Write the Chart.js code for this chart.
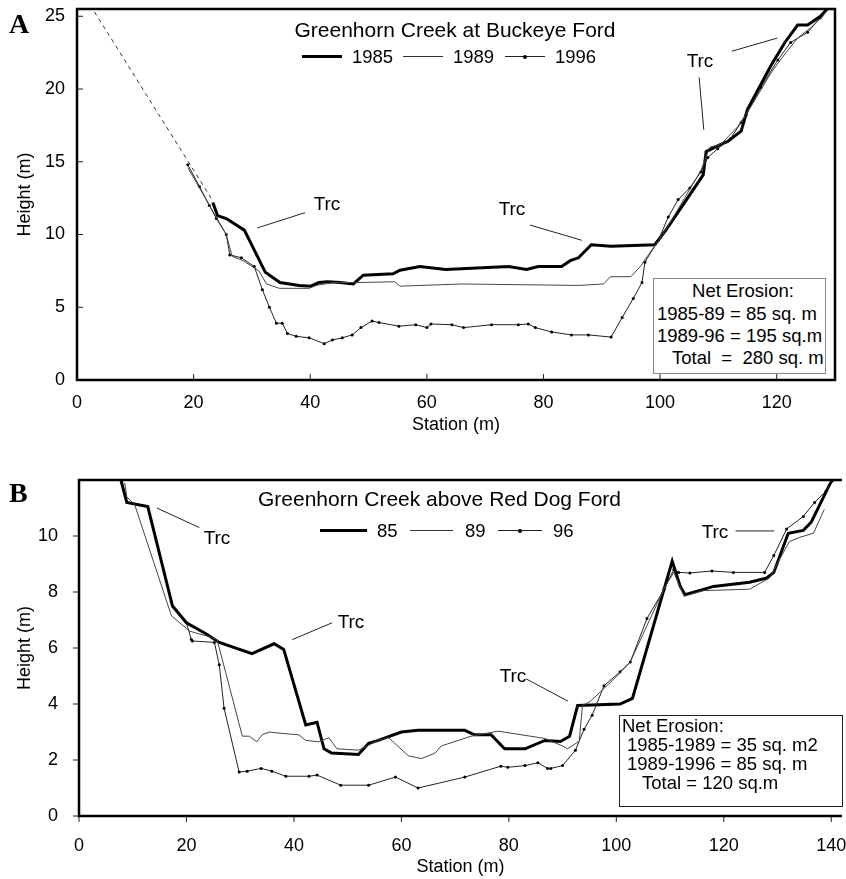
<!DOCTYPE html>
<html>
<head>
<meta charset="utf-8">
<script src="https://cdn.jsdelivr.net/npm/chart.js@4.4.1/dist/chart.umd.min.js"></script>
<style>
  body { margin: 0; background: #fff; }
  #page { position: relative; width: 846px; height: 879px; overflow: hidden;
          font-family: "Liberation Sans", Arial, sans-serif; color: #000; }
  .panel { position: absolute; left: 0; }
  .t { position: absolute; line-height: 1; white-space: pre; transform: translateY(-50%); }
  .c { transform: translate(-50%, -50%); }
  .big { font: bold 28px "Liberation Serif", "Times New Roman", serif; transform: none; }
  .ttl { font-size: 21px; }
  .leg { font-size: 18.5px; }
  .trc { font-size: 19px; }
  .ne { font-size: 18.5px; }
  .sw { position: absolute; background: #000; }
  .dot { position: absolute; width: 4px; height: 4px; border-radius: 2px; background: #000; }
  .box { position: absolute; background: #fff; box-sizing: border-box; }
</style>
</head>
<body>
<div id="page">
  <div class="panel" style="top:0;width:846px;height:445px">
    <canvas id="chartA" width="846" height="445"></canvas>
  </div>
  <div class="panel" style="top:445px;width:846px;height:434px">
    <canvas id="chartB" width="846" height="434"></canvas>
  </div>

  <!-- panel A labels -->
  <div class="t big" style="left:9px;top:8px">A</div>
  <div class="t c ttl" style="left:455px;top:29px">Greenhorn Creek at Buckeye Ford</div>
  <div class="sw" style="left:302px;top:54.5px;width:40px;height:3px"></div>
  <div class="t leg" style="left:352px;top:57px">1985</div>
  <div class="sw" style="left:403px;top:56px;width:40px;height:1px;background:#333"></div>
  <div class="t leg" style="left:453px;top:57px">1989</div>
  <div class="sw" style="left:505px;top:56px;width:40px;height:1px;background:#222"></div>
  <div class="dot" style="left:523px;top:54.5px"></div>
  <div class="t leg" style="left:555px;top:57px">1996</div>
  <div class="t c trc" style="left:327px;top:203px">Trc</div>
  <div class="t c trc" style="left:512px;top:208px">Trc</div>
  <div class="t c trc" style="left:700px;top:60px">Trc</div>
  <div class="box" style="left:653px;top:278px;width:173px;height:96px;border:1px solid #888"></div>
  <div class="t c ne" style="left:743px;top:291px">Net Erosion:</div>
  <div class="t ne" style="left:657px;top:314px">1985-89 = 85 sq. m</div>
  <div class="t ne" style="left:657px;top:336px">1989-96 = 195 sq.m</div>
  <div class="t ne" style="left:672px;top:358px">Total  =  280 sq. m</div>

  <!-- panel B labels -->
  <div class="t big" style="left:9px;top:477px">B</div>
  <div class="t ttl" style="left:258px;top:498px">Greenhorn Creek above Red Dog Ford</div>
  <div class="sw" style="left:320px;top:528.5px;width:47px;height:3px"></div>
  <div class="t leg" style="left:377px;top:531px">85</div>
  <div class="sw" style="left:410px;top:530px;width:43px;height:1px;background:#333"></div>
  <div class="t leg" style="left:465px;top:531px">89</div>
  <div class="sw" style="left:498px;top:530px;width:44px;height:1px;background:#222"></div>
  <div class="dot" style="left:518px;top:528.5px"></div>
  <div class="t leg" style="left:553px;top:531px">96</div>
  <div class="t c trc" style="left:217px;top:537px">Trc</div>
  <div class="t c trc" style="left:351px;top:621px">Trc</div>
  <div class="t c trc" style="left:513px;top:675px">Trc</div>
  <div class="t c trc" style="left:715px;top:531px">Trc</div>
  <div class="box" style="left:619px;top:715px;width:224px;height:92px;border:1.5px solid #222"></div>
  <div class="t ne" style="left:622px;top:726px">Net Erosion:</div>
  <div class="t ne" style="left:627px;top:745px">1985-1989 = 35 sq. m2</div>
  <div class="t ne" style="left:627px;top:764px">1989-1996 = 85 sq. m</div>
  <div class="t ne" style="left:642px;top:783px">Total = 120 sq.m</div>
</div>

<script>
// ---- A: Greenhorn Creek at Buckeye Ford ----
const stationA85 = [23.3, 24.1, 25.6, 28.7, 32.3, 34.8, 38.1, 40.1, 41.5, 43.0, 45.1, 47.4, 49.1, 54.2, 55.4, 58.8, 63.2, 74, 77.1, 79.1, 83.1, 84.6, 86, 88.2, 91.6, 99.1, 101, 107.4, 107.9, 110.4, 111.6, 113.9, 115, 119, 121.4, 123.6, 125.3, 127.5, 128.9];
const heightA85  = [12.2, 11.3, 11.1, 10.3, 7.4, 6.7, 6.5, 6.45, 6.7, 6.75, 6.7, 6.6, 7.2, 7.3, 7.55, 7.8, 7.6, 7.8, 7.6, 7.8, 7.8, 8.2, 8.4, 9.3, 9.2, 9.3, 10.3, 14.1, 15.7, 16.2, 16.4, 17.1, 18.6, 21.6, 23.2, 24.4, 24.4, 25, 25.6];

const stationA89 = [19, 21, 23.3, 25.6, 26.6, 28.5, 31.2, 32.5, 34.7, 39.8, 41, 44, 48, 54.5, 55.4, 66, 86, 90.3, 91.5, 95, 96.6, 98, 100.8, 107, 108.5, 110.4, 113.3, 115.6, 119, 121.4, 123.6, 125.8, 128.2];
const heightA89  = [14.6, 13.2, 11.6, 10, 8.5, 8.2, 7.5, 6.6, 6.3, 6.3, 6.5, 6.7, 6.7, 6.75, 6.45, 6.6, 6.5, 6.6, 7.1, 7.1, 7.8, 8.6, 10.2, 14.4, 16, 16.2, 17.4, 18.8, 21.1, 22.4, 23.5, 24.2, 25.1];

const stationA96 = [19, 21, 22.7, 23.9, 25.6, 26.2, 28.2, 30.4, 31.8, 33, 34.2, 35.2, 36.1, 37.6, 39.8, 42.4, 43.8, 45.5, 47.2, 48.7, 50.6, 51.8, 55.2, 58.1, 60, 60.7, 64.3, 66.3, 71.1, 75.7, 77.4, 78.6, 81.4, 84.8, 87.7, 91.6, 93.5, 95.4, 96.9, 97.4, 99.7, 101.4, 103.1, 105.1, 107, 108.2, 109.9, 112.1, 113.9, 114.7, 117.3, 120.2, 122.4, 125.3, 127.5, 128.9];
const heightA96  = [14.8, 13.3, 12.0, 11.1, 10, 8.6, 8.4, 7.8, 6.2, 5, 3.9, 3.9, 3.2, 3.0, 2.9, 2.5, 2.75, 2.9, 3.1, 3.6, 4.05, 3.95, 3.7, 3.8, 3.6, 3.85, 3.8, 3.6, 3.8, 3.8, 3.85, 3.6, 3.3, 3.1, 3.1, 2.95, 4.3, 5.6, 6.7, 8.1, 9.6, 11.2, 12.4, 13.2, 14.3, 15.3, 15.9, 16.6, 17.7, 18.2, 20.1, 22, 23.2, 23.9, 24.9, 25.6];

// dashed upper bank
const stationAExt = [3, 23];
const heightAExt  = [25.3, 12.5];

// ---- B: Greenhorn Creek above Red Dog Ford ----
const stationB85 = [7.8, 8.9, 12.8, 17.4, 20, 23.7, 26.1, 32.2, 36.3, 38.1, 42.2, 44.3, 45.6, 47, 52, 53.9, 55.7, 60, 63.1, 71.8, 73.6, 76.7, 79.2, 83, 86.7, 89.6, 91.3, 92.8, 100.7, 103, 110.4, 111.9, 112.8, 118.1, 124.8, 128, 129.3, 132, 134.8, 136.3, 139.6, 140.2];
const heightB85  = [12, 11.2, 11.05, 7.5, 6.9, 6.5, 6.2, 5.8, 6.15, 5.95, 3.25, 3.35, 2.4, 2.25, 2.2, 2.6, 2.7, 3.0, 3.06, 3.06, 2.9, 2.9, 2.4, 2.4, 2.7, 2.66, 2.85, 3.95, 4.0, 4.2, 9.1, 8.2, 7.9, 8.2, 8.35, 8.5, 8.7, 10.1, 10.2, 10.5, 11.8, 12];

const stationB89 = [8.5, 8.9, 10.4, 17.2, 20.6, 24.3, 25.7, 30.4, 31.7, 33.1, 34.1, 35.4, 37.8, 40.9, 42.2, 44.6, 46.5, 48, 52, 55.7, 57.6, 61.3, 63.7, 66.3, 67.4, 73, 78, 86.7, 90, 90.9, 93.1, 93.7, 95.2, 99.6, 102.6, 105.7, 109.1, 110.7, 112.6, 116.3, 124.8, 128.5, 132.2, 134.1, 136.7, 138.7];
const heightB89  = [11.9, 11.4, 11.1, 7.15, 6.6, 6.4, 6.3, 2.85, 2.85, 2.65, 2.9, 3.0, 2.95, 2.9, 2.7, 2.65, 2.8, 2.4, 2.35, 2.7, 2.8, 2.15, 2.05, 2.25, 2.5, 2.85, 3.03, 2.77, 2.5, 2.4, 2.67, 3.95, 4.1, 4.9, 5.5, 6.8, 8.2, 8.7, 7.85, 8.05, 8.1, 8.5, 9.8, 9.95, 10.1, 10.95];

const stationB96 = [20, 20.9, 21.1, 25.2, 26.1, 27, 29.8, 31.3, 33.9, 35.9, 38.5, 42.8, 44.3, 48.7, 53.9, 58.9, 63.1, 71.8, 78.5, 79.8, 83, 85.4, 87.2, 87.8, 90, 92.4, 94, 95.5, 97.7, 100.7, 102.6, 105.7, 108.9, 110.7, 111.6, 113.7, 117.8, 121.8, 127.6, 129.3, 131.7, 134.8, 136.9, 139, 140.4];
const heightB96  = [6.9, 6.3, 6.25, 6.2, 5.4, 3.85, 1.57, 1.6, 1.7, 1.6, 1.42, 1.42, 1.46, 1.1, 1.1, 1.39, 1.0, 1.39, 1.78, 1.74, 1.8, 1.9, 1.7, 1.7, 1.8, 2.35, 3.1, 3.6, 4.65, 5.15, 5.5, 7.05, 8.1, 8.8, 8.7, 8.68, 8.75, 8.7, 8.7, 9.3, 10.25, 10.7, 11.2, 11.6, 12];

// "Trc" leader lines, [station1, height1, station2, height2]
const leadersA = [[30.9, 10.45, 39.1, 11.5], [77.7, 10.65, 86.6, 9.6], [106.7, 20.8, 107.5, 17.2], [112.3, 22.6, 120.1, 23.5]];
const leadersB = [[14.5, 11.0, 22.4, 10.3], [39.7, 6.3, 47.1, 6.9], [83.2, 4.9, 91.0, 4.1], [122.2, 10.18, 129.4, 10.18]];

const pts = (xs, ys) => xs.map((x, i) => ({ x: x, y: ys[i] }));

Chart.defaults.font.family = '"Liberation Sans", Arial, sans-serif';
Chart.defaults.color = "#000";

// frame, ticks and leader lines
const framePlugin = {
  id: "frame",
  afterDatasetsDraw(chart, args, o) {
    const { ctx, chartArea: a, scales: { x, y } } = chart;
    const seg = (x1, y1, x2, y2) => {
      ctx.beginPath();
      ctx.moveTo(x1, y1);
      ctx.lineTo(x2, y2);
      ctx.stroke();
    };
    ctx.save();
    ctx.strokeStyle = "#222";
    ctx.lineWidth = 1;
    o.leaders.forEach((l) => {
      seg(x.getPixelForValue(l[0]), y.getPixelForValue(l[1]), x.getPixelForValue(l[2]), y.getPixelForValue(l[3]));
    });
    x.ticks.forEach((t) => {
      const p = x.getPixelForValue(t.value);
      seg(p, a.bottom, p, a.bottom - o.tick);
    });
    y.ticks.forEach((t) => {
      const p = y.getPixelForValue(t.value);
      seg(a.left, p, a.left + o.tick, p);
    });
    ctx.strokeStyle = "#000";
    ctx.lineWidth = 2.5;
    ctx.beginPath();
    ctx.moveTo(a.right, a.bottom);
    ctx.lineTo(a.left, a.bottom);
    ctx.lineTo(a.left, a.top);
    ctx.lineTo(a.right, a.top);
    if (o.closed) ctx.closePath();
    ctx.stroke();
    ctx.restore();
  },
};

function makeChart(id, datasets, s) {
  return new Chart(document.getElementById(id), {
    type: "line",
    data: { datasets: datasets },
    options: {
      responsive: false,
      animation: false,
      layout: { padding: { left: 0, top: s.padTop, right: s.padRight, bottom: 0 } },
      elements: { line: { tension: 0 }, point: { radius: 0 } },
      plugins: {
        legend: { display: false },
        tooltip: { enabled: false },
        frame: { leaders: s.leaders, tick: s.tick, closed: s.closed },
      },
      scales: {
        x: {
          type: "linear",
          min: 0,
          max: s.xMax,
          grid: { display: false, drawTicks: false },
          border: { display: false },
          ticks: { stepSize: 20, includeBounds: false, padding: s.xPad, font: { size: 18 } },
          title: { display: true, text: "Station (m)", font: { size: 18 }, padding: { top: 0, bottom: s.xTitlePad } },
          afterFit: (ax) => {
            ax.height = s.xHeight;
            ax.paddingLeft = 0;
            ax.paddingRight = 0;
          },
        },
        y: {
          min: 0,
          max: s.yMax,
          grid: { display: false, drawTicks: false },
          border: { display: false },
          ticks: { stepSize: s.yStep, includeBounds: false, padding: s.yPad, font: { size: 18 } },
          title: { display: true, text: "Height (m)", font: { size: 18 }, padding: { top: 14, bottom: 0 } },
          afterBuildTicks: (ax) => { ax.ticks = ax.ticks.filter((t) => t.value <= s.yTop); },
          afterFit: (ax) => {
            ax.width = s.yWidth;
            ax.paddingTop = 0;
            ax.paddingBottom = 0;
          },
        },
      },
    },
    plugins: [framePlugin],
  });
}

makeChart("chartA", [
  { data: pts(stationAExt, heightAExt), borderColor: "#333", borderWidth: 1, borderDash: [4, 4] },
  { data: pts(stationA89, heightA89), borderColor: "#444", borderWidth: 1 },
  { data: pts(stationA96, heightA96), borderColor: "#222", borderWidth: 1, pointRadius: 1.5,
    pointBackgroundColor: "#000", pointBorderWidth: 0 },
  { data: pts(stationA85, heightA85), borderColor: "#000", borderWidth: 3 },
], {
  padTop: 9, padRight: 11, xMax: 130, yMax: 25.5, yStep: 5, yTop: 25,
  xPad: 12, xTitlePad: 9, xHeight: 65, yPad: 12, yWidth: 77,
  leaders: leadersA, tick: 6, closed: true,
});

makeChart("chartB", [
  { data: pts(stationB89, heightB89), borderColor: "#444", borderWidth: 1 },
  { data: pts(stationB96, heightB96), borderColor: "#222", borderWidth: 1, pointRadius: 1.5,
    pointBackgroundColor: "#000", pointBorderWidth: 0 },
  { data: pts(stationB85, heightB85), borderColor: "#000", borderWidth: 3 },
], {
  padTop: 35, padRight: 1, xMax: 142, yMax: 12, yStep: 2, yTop: 10,
  xPad: 19, xTitlePad: 1, xHeight: 63, yPad: 21, yWidth: 79,
  leaders: leadersB, tick: -6, closed: false,
});
</script>
</body>
</html>
